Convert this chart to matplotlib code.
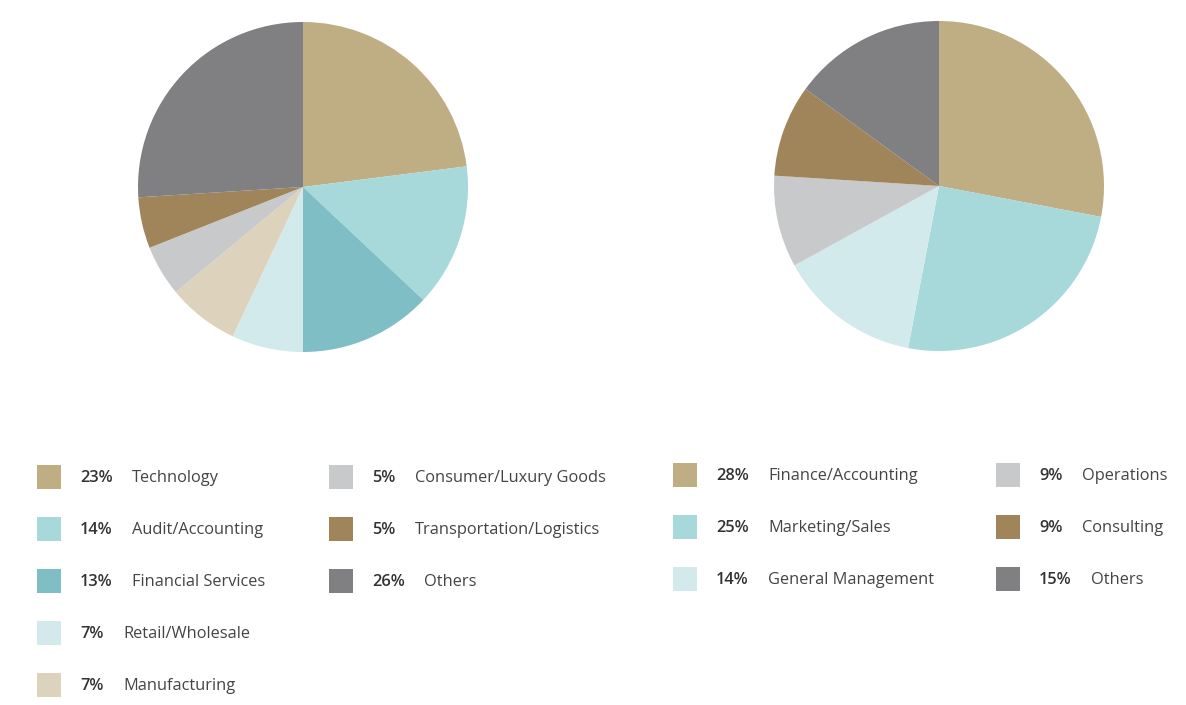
import matplotlib.pyplot as plt

# left pie - industries
ind_labels = ['Technology', 'Audit/Accounting', 'Financial Services', 'Retail/Wholesale',
              'Manufacturing', 'Consumer/Luxury Goods', 'Transportation/Logistics', 'Others']
ind_values = [23, 14, 13, 7, 7, 5, 5, 26]
ind_colors = ['#BFAE83', '#A7D8DA', '#80BEC6', '#D3EAED', '#DDD3BC', '#C8C9CB', '#A0845A', '#808083']

# right pie - functions
fn_labels = ['Finance/Accounting', 'Marketing/Sales', 'General Management',
             'Operations', 'Consulting', 'Others']
fn_values = [28, 25, 14, 9, 9, 15]
fn_colors = ['#BFAE83', '#A7D8DA', '#D3EAED', '#C8C9CB', '#A0845A', '#808083']

W, H = 1186, 705
fig = plt.figure(figsize=(W / 100, H / 100), dpi=100)
plt.rcParams['font.family'] = ['Open Sans', 'DejaVu Sans']


def pie_at(cx, cy, r, values, colors):
    ax = fig.add_axes([(cx - r) / W, (H - cy - r) / H, 2 * r / W, 2 * r / H])
    ax.pie(values, colors=colors, startangle=90, counterclock=False, radius=1,
           wedgeprops=dict(linewidth=0))
    ax.set_xlim(-1, 1)
    ax.set_ylim(-1, 1)
    ax.set_aspect('equal')
    ax.axis('off')


pie_at(303, 187, 165, ind_values, ind_colors)
pie_at(939, 186, 165, fn_values, fn_colors)

# legend drawn in pixel coordinates
lg = fig.add_axes([0, 0, 1, 1])
lg.set_xlim(0, W)
lg.set_ylim(H, 0)
lg.axis('off')


def legend_col(x0, y0, idx, labels, values, colors, step=52):
    for k, i in enumerate(idx):
        y = y0 + k * step
        lg.add_patch(plt.Rectangle((x0, y - 12), 24, 24, color=colors[i], lw=0))
        lg.text(x0 + 43, y + 1.5, '%d%%' % values[i], fontsize=11.8, fontweight='semibold',
                color='#333333', va='center', ha='left')
        off = 52 if values[i] >= 10 else 43
        lg.text(x0 + 43 + off, y + 1.5, labels[i], fontsize=11.8, color='#444444',
                va='center', ha='left')


legend_col(37, 477, range(0, 5), ind_labels, ind_values, ind_colors)
legend_col(329, 477, range(5, 8), ind_labels, ind_values, ind_colors)
legend_col(673, 475, range(0, 3), fn_labels, fn_values, fn_colors)
legend_col(996, 475, range(3, 6), fn_labels, fn_values, fn_colors)

fig.savefig('out.png', dpi=100, facecolor='white')
